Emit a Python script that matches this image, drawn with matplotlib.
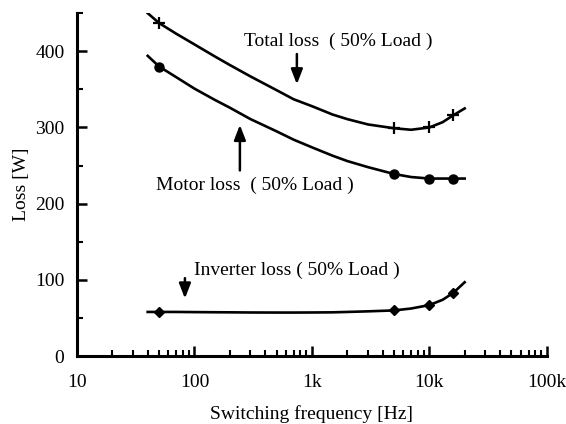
import matplotlib
matplotlib.use('Agg')
import matplotlib.pyplot as plt
from matplotlib.ticker import FixedLocator, LogLocator, NullFormatter, MultipleLocator

plt.rcParams['font.family'] = ['Liberation Serif', 'DejaVu Serif']

# curve values
curve_f = [40, 50, 70, 100, 150, 200, 300, 500, 700, 1000, 1500, 2000,
           3000, 5000, 7000, 10000, 13000, 16000, 20000]
total_curve = [450, 437, 423, 409, 393, 382, 367, 349, 337, 328, 317, 311,
               304, 299, 297, 300, 307, 316, 325]
motor_curve = [394, 380, 366, 351, 336, 326, 311, 295, 284, 274, 263, 256,
               248, 239, 235, 233, 233, 233, 233]
inverter_curve = [58, 58, 58, 57.8, 57.6, 57.5, 57.3, 57.2, 57.2, 57.3, 57.5, 58,
                  58.8, 60, 62.5, 67, 74, 83, 97]

# measured points (markers)
mark_f = [50, 5000, 10000, 16000]
total_pts = [437, 299, 300, 316]
motor_pts = [380, 239, 233, 233]
inverter_pts = [58, 60, 67, 83]

fig = plt.figure(figsize=(5.66, 4.24), dpi=100)
ax = fig.add_axes([0.136, 0.160, 0.830, 0.809])

lw = 1.9
ax.plot(curve_f, total_curve, color='black', lw=lw)
ax.plot(mark_f, total_pts, ls='none', marker='+', ms=9, mew=1.6, color='black')
ax.plot(curve_f, motor_curve, color='black', lw=lw)
ax.plot(mark_f, motor_pts, ls='none', marker='o', ms=6.5, color='black')
ax.plot(curve_f, inverter_curve, color='black', lw=lw)
ax.plot(mark_f, inverter_pts, ls='none', marker='D', ms=5.5, color='black')

ax.set_xscale('log')
ax.set_xlim(10, 100000)
ax.set_ylim(0, 450)
ax.xaxis.set_major_locator(FixedLocator([10, 100, 1000, 10000, 100000]))
ax.set_xticklabels(['10', '100', '1k', '10k', '100k'])
ax.xaxis.set_minor_locator(LogLocator(base=10, subs=range(2, 10)))
ax.xaxis.set_minor_formatter(NullFormatter())
ax.set_yticks([0, 100, 200, 300, 400])
ax.yaxis.set_minor_locator(MultipleLocator(50))

for s in ['top', 'right']:
    ax.spines[s].set_visible(False)
for s in ['left', 'bottom']:
    ax.spines[s].set_linewidth(2.2)

ax.tick_params(which='major', direction='in', length=7, width=1.8, labelsize=14)
ax.tick_params(which='minor', direction='in', length=4, width=1.5)
ax.tick_params(axis='x', which='major', pad=13)
ax.tick_params(axis='y', which='major', pad=9)

ax.set_xlabel('Switching frequency [Hz]', fontsize=14, labelpad=10)
ax.set_ylabel('Loss [W]', fontsize=14, labelpad=4)


def fx(px):
    # pixel column -> frequency, for placing labels
    return 10 ** (1 + (px - 77) / 117.5)


arrow = dict(arrowstyle='-|>,head_length=0.9,head_width=0.35', color='black', lw=1.8)
ax.text(fx(244), 413, 'Total loss  ( 50% Load )', fontsize=14, va='center', ha='left')
ax.annotate('', xy=(fx(297), 353), xytext=(fx(297), 400), arrowprops=arrow)

ax.text(fx(156), 224, 'Motor loss  ( 50% Load )', fontsize=14, va='center', ha='left')
ax.annotate('', xy=(fx(240), 307), xytext=(fx(240), 240), arrowprops=arrow)

ax.text(fx(194), 113, 'Inverter loss ( 50% Load )', fontsize=14, va='center', ha='left')
ax.annotate('', xy=(fx(185), 72), xytext=(fx(185), 106), arrowprops=arrow)

fig.savefig('out.png', dpi=100)
